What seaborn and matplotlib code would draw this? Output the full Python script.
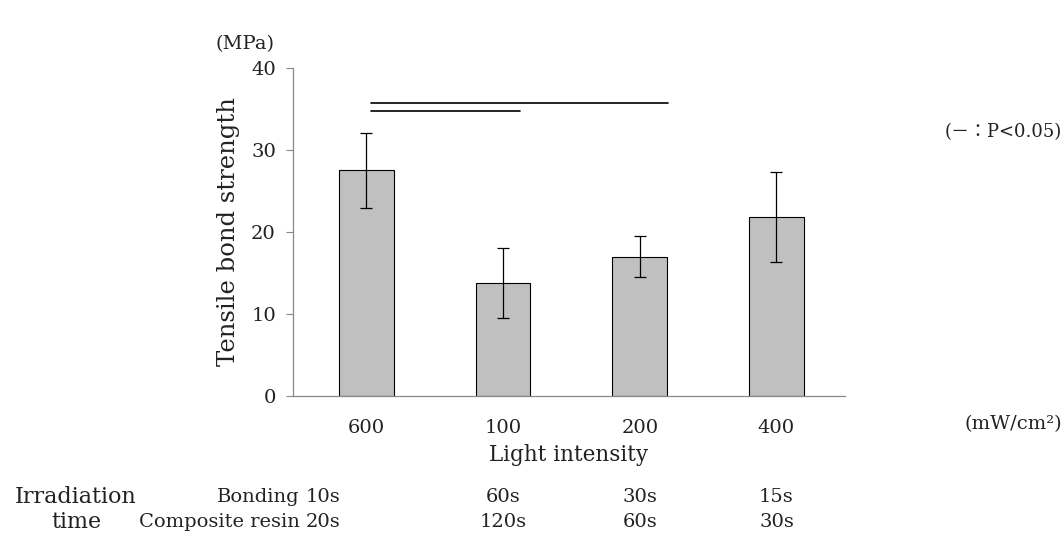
import pandas as pd
import numpy as np
import matplotlib.pyplot as plt
import seaborn as sns

# === DATOS ===
intensities = ['600', '100', '200', '400']
strength = [27.5, 13.8, 17.0, 21.8]
strength_sd = [4.6, 4.3, 2.5, 5.5]
bonding_times = ['10s', '60s', '30s', '15s']
resin_times = ['20s', '120s', '60s', '30s']
# lineas de significancia: (inicio, fin, altura)
sig_start = [0.03, 0.03]
sig_end = [1.12, 2.21]
sig_height = [34.8, 35.7]

df = pd.DataFrame({'intensity': intensities, 'strength': strength})

sns.set_style('white')
plt.rcParams['font.family'] = ['DejaVu Serif']
plt.rcParams['text.color'] = '#222222'

fig = plt.figure(figsize=(10.64, 5.5), dpi=100)
ax = fig.add_axes([0.275, 0.28, 0.519, 0.5964])

sns.barplot(x='intensity', y='strength', data=df, order=intensities,
            color='#c0c0c0', edgecolor='black', linewidth=0.8,
            width=0.4, errorbar=None, saturation=1, ax=ax)
ax.errorbar(np.arange(len(intensities)), strength, yerr=strength_sd,
            fmt='none', ecolor='black', elinewidth=0.9, capsize=4, capthick=0.9)

for x0, x1, h in zip(sig_start, sig_end, sig_height):
    ax.plot([x0, x1], [h, h], color='black', lw=1.2)

ax.set_ylim(0, 40)
ax.set_xlim(-0.54, 3.5)
ax.set_yticks([0, 10, 20, 30, 40])
ax.tick_params(axis='y', left=True, length=5, width=0.8, color='#888888',
               labelsize=14, pad=7, labelcolor='#222222')
ax.tick_params(axis='x', bottom=False, labelsize=14, pad=13, labelcolor='#222222')
for s in ['top', 'right']:
    ax.spines[s].set_visible(False)
for s in ['left', 'bottom']:
    ax.spines[s].set_color('#888888')
    ax.spines[s].set_linewidth(0.9)

ax.set_xlabel('Light intensity', fontsize=15.5, labelpad=5, color='#222222')
ax.set_ylabel('Tensile bond strength', fontsize=17.5, labelpad=8, color='#222222')

# textos adicionales
fig.text(245 / 1064, 1 - 44 / 550, '(MPa)', fontsize=14, ha='center', va='center')
fig.text(1062 / 1064, 1 - 132 / 550, '(－：P<0.05)', fontsize=13, ha='right', va='center',
         family=['DejaVu Serif', 'Noto Sans CJK JP'])
fig.text(1062 / 1064, 1 - 424 / 550, '(mW/cm²)', fontsize=14, ha='right', va='center')

# tabla de tiempos de irradiacion
fs_t = 14
y1_px, y2_px = 497, 522
fig.text(76 / 1064, 1 - y1_px / 550, 'Irradiation', fontsize=16, ha='center', va='center')
fig.text(76 / 1064, 1 - y2_px / 550, 'time', fontsize=16, ha='center', va='center')
fig.text(300 / 1064, 1 - y1_px / 550, 'Bonding', fontsize=fs_t, ha='right', va='center')
fig.text(300 / 1064, 1 - y2_px / 550, 'Composite resin', fontsize=fs_t, ha='right', va='center')
trans = ax.get_xaxis_transform()
for i, (b, r) in enumerate(zip(bonding_times, resin_times)):
    xpos = i if i > 0 else -0.32
    ax.text(xpos, (396 - y1_px) / 328, b, fontsize=fs_t,
            ha='center', va='center', transform=trans)
    ax.text(xpos, (396 - y2_px) / 328, r, fontsize=fs_t,
            ha='center', va='center', transform=trans)

fig.savefig('out.png', dpi=100)
